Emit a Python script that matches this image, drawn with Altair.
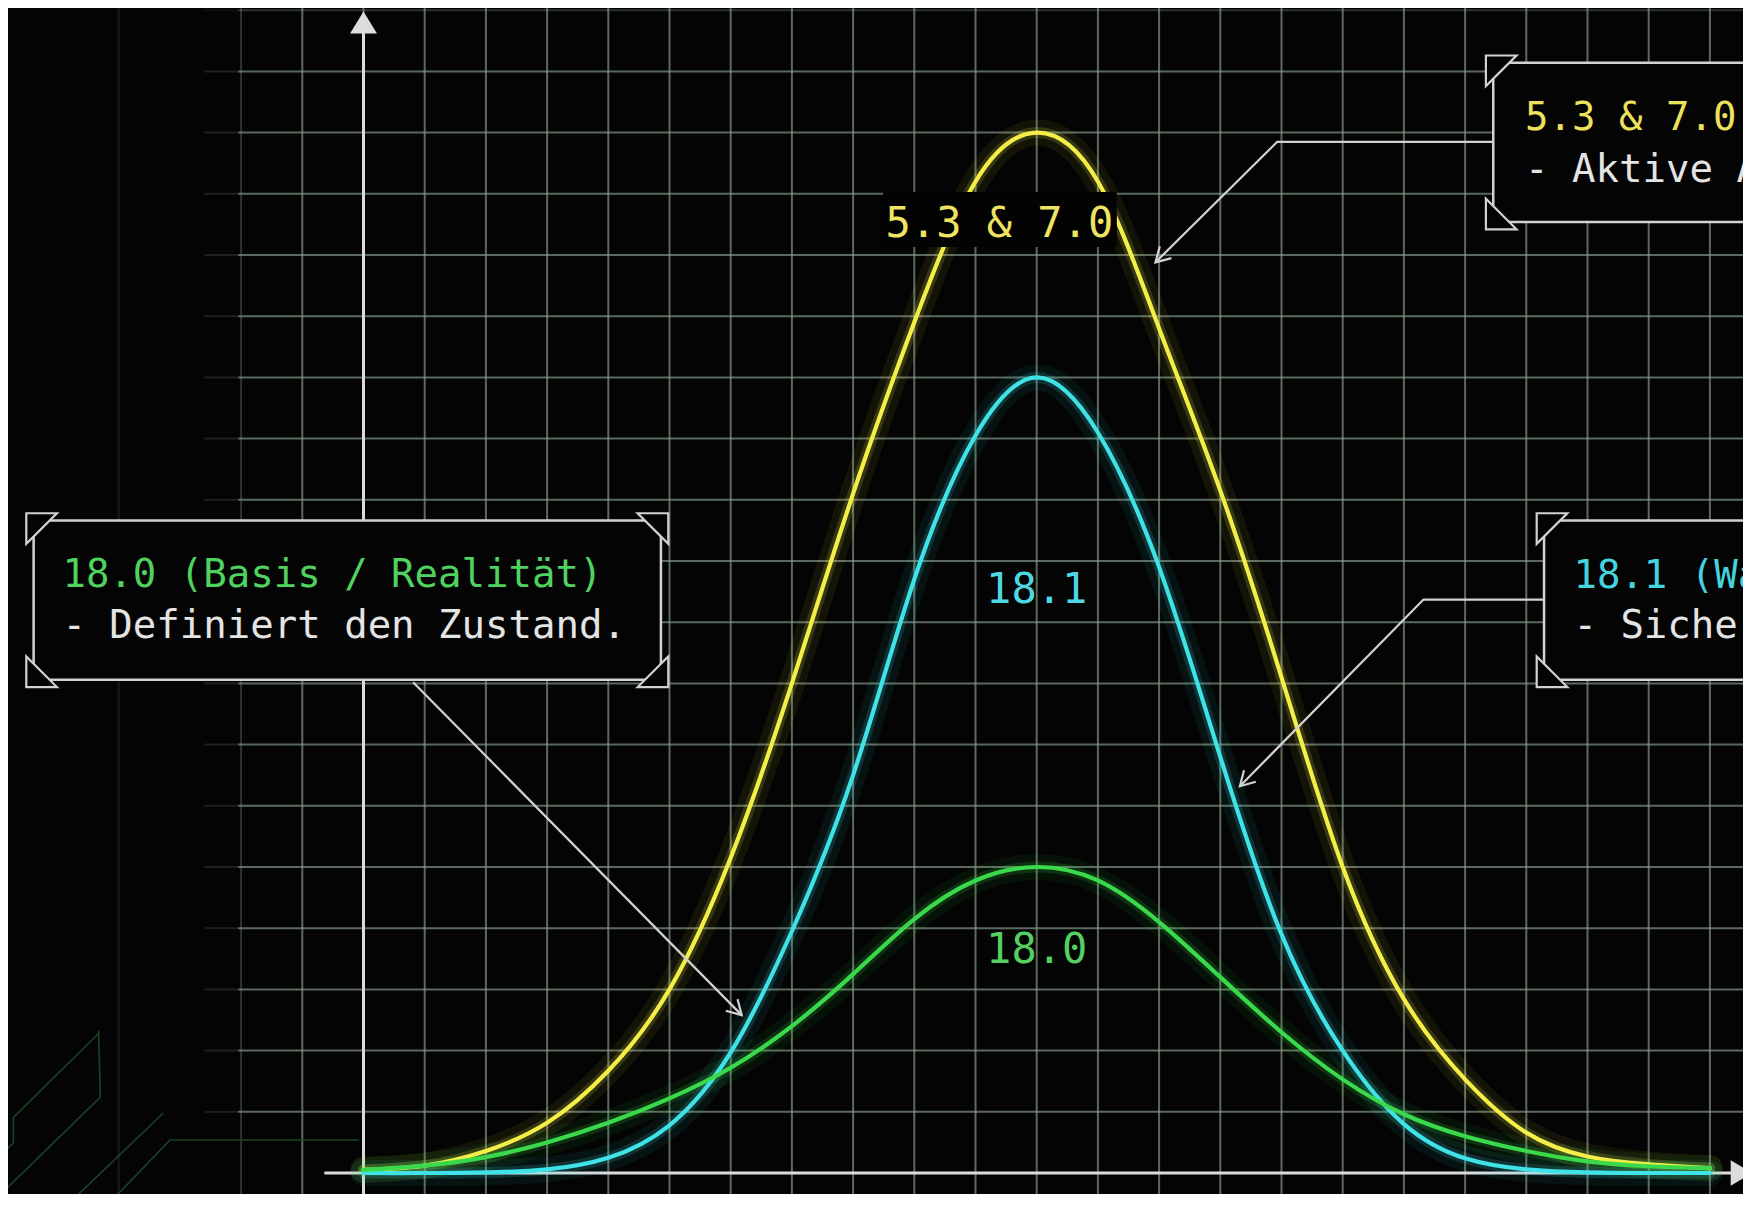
import math
import altair as alt
import pandas as pd

# ------------------------------------------------------------------
# Values (grid units: 1 unit = one grid cell)
# ------------------------------------------------------------------
x_pos = list(range(23))
yellow_vals = [0.05, 0.12, 0.36, 0.82, 1.67, 3.0, 5.15, 8.0, 11.1, 13.9, 16.2, 17.0,
               16.2, 13.8, 11.15, 8.1, 5.0, 2.84, 1.53, 0.66, 0.27, 0.14, 0.08]
cyan_vals = [0.0, 0.0, 0.01, 0.06, 0.25, 0.78, 1.97, 3.95, 6.5, 9.7, 12.05, 13.0,
             12.1, 9.9, 6.8, 3.9, 2.0, 0.8, 0.24, 0.06, 0.01, 0.0, 0.0]
green_vals = [0.05, 0.12, 0.26, 0.5, 0.82, 1.22, 1.72, 2.4, 3.25, 4.15, 4.78, 5.0,
              4.78, 4.1, 3.2, 2.3, 1.53, 0.96, 0.6, 0.36, 0.19, 0.11, 0.08]
series_names = ["5.3 & 7.0", "18.1", "18.0"]
series_colors = ["#f4ee48", "#3fe2e6", "#3ad94c"]

center_labels = ["5.3 & 7.0", "18.1", "18.0"]
center_label_x = [10.39, 11.0, 11.0]
center_label_u = [15.3, 9.31, 3.43]
center_label_colors = ["#efe462", "#4fd8e3", "#56cf62"]

# box texts as far as they are visible in the picture (the right boxes run off the edge)
box_titles = ["18.0 (Basis / Realität)", "18.1 (Wä", "5.3 & 7.0"]
box_notes = ["- Definiert den Zustand.", "- Sicher", "- Aktive A"]
box_title_colors = ["#50d260", "#44d4dd", "#ece25c"]
note_color = "#e4e4e4"

# annotation layout (grid units)
box_x1 = [-5.39, 19.29, 18.46]
box_x2 = [4.86, 24.0, 24.0]
box_u1 = [8.06, 8.06, 15.54]
box_u2 = [10.66, 10.66, 18.14]
box_corners = [["tl", "tr", "bl", "br"], ["tl", "bl"], ["tl", "bl"]]
box_text_x = [-4.92, 19.77, 18.98]
box_title_u = [9.57, 9.56, 17.04]
box_note_u = [8.74, 8.74, 16.2]

connectors = [
    [(18.46, 16.85), (14.93, 16.85), (12.94, 14.88)],
    [(19.29, 9.37), (17.32, 9.37), (14.32, 6.32)],
    [(0.81, 8.02), (6.18, 2.58)],
]

# faint decorative circuit traces, lower left
traces = [
    [(-4.33, 2.33), (-4.30, 1.24), (-5.94, -0.36)],
    [(-4.33, 2.28), (-5.72, 0.91), (-5.72, 0.49), (-5.94, 0.27)],
    [(-3.27, 0.98), (-4.91, -0.59)],
    [(-0.08, 0.54), (-3.16, 0.54), (-4.25, -0.59)],
]

# ------------------------------------------------------------------
W, H = 1735, 1186
UNIT = 61.2
X_LEFT = -(363.5 - 8) / UNIT
X_RIGHT = X_LEFT + W / UNIT
U_TOP = (1173.0 - 8) / UNIT
U_BOTTOM = U_TOP - H / UNIT

xs = alt.Scale(domain=[X_LEFT, X_RIGHT], nice=False, zero=False)
ys = alt.Scale(domain=[U_BOTTOM, U_TOP], nice=False, zero=False)


def X(f):
    return alt.X(f, type="quantitative", scale=xs, axis=None)


def Y(f):
    return alt.Y(f, type="quantitative", scale=ys, axis=None)


FONT = "DejaVu Sans Mono"
GRID = "#8a9e8d"
AXIS = "#dcdcdc"
LINE = "#d2d2d2"

# ---- grid ----
v_rows = [{"X": x, "u1": U_BOTTOM - 1, "u2": U_TOP + 1, "o": 0.66 if x >= -1 else 0.32}
          for x in range(-2, 24)]
v_rows.append({"X": -4, "u1": U_BOTTOM - 1, "u2": U_TOP + 1, "o": 0.16})
vgrid = alt.Chart(pd.DataFrame(v_rows)).mark_rule(color=GRID, strokeWidth=2).encode(
    x=X("X"), y=Y("u1"), y2="u2", opacity=alt.Opacity("o:Q", scale=None))
h_rows = []
for u in range(1, 20):
    op = 0.66 if u < 19 else 0.3
    h_rows.append({"U": u, "x1": -2.05, "x2": X_RIGHT + 1, "o": op})
    h_rows.append({"U": u, "x1": -2.6, "x2": -2.05, "o": op * 0.3})
hgrid = alt.Chart(pd.DataFrame(h_rows)).mark_rule(color=GRID, strokeWidth=2).encode(
    x=X("x1"), x2="x2", y=Y("U"), opacity=alt.Opacity("o:Q", scale=None))

# ---- circuit traces ----
tr_rows = []
for i, path in enumerate(traces):
    for j, (a, b) in enumerate(path):
        tr_rows.append({"id": i, "i": j, "X": a, "U": b})
trace_layer = alt.Chart(pd.DataFrame(tr_rows)).mark_line(
    color="#1f4a2a", strokeWidth=1.6, opacity=0.9).encode(
    x=X("X"), y=Y("U"), detail="id:N", order="i:Q")

# ---- axes ----
yaxis = alt.Chart(pd.DataFrame({"X": [0.0], "u1": [U_BOTTOM - 1], "u2": [18.7]})).mark_rule(
    color=AXIS, strokeWidth=3).encode(x=X("X"), y=Y("u1"), y2="u2")
xaxis = alt.Chart(pd.DataFrame({"U": [0.0], "x1": [-0.64], "x2": [22.45]})).mark_rule(
    color=AXIS, strokeWidth=3).encode(y=Y("U"), x=X("x1"), x2="x2")
yarrow = alt.Chart(pd.DataFrame({"X": [-0.22, 0.0, 0.22], "U": [18.62, 18.98, 18.62],
                                 "U2": [18.62, 18.62, 18.62]})).mark_area(
    color=AXIS, opacity=1).encode(x=X("X"), y=Y("U"), y2="U2")
xarrow = alt.Chart(pd.DataFrame({"U": [-0.21, 0.0, 0.21], "X": [22.34, 22.34, 22.34],
                                 "X2": [22.34, 22.69, 22.34]})).mark_area(
    color=AXIS, opacity=1, orient="horizontal").encode(y=Y("U"), x=X("X"), x2="X2")

# ---- curves ----
c_rows = []
for name, vals in zip(series_names, [yellow_vals, cyan_vals, green_vals]):
    for xv, uv in zip(x_pos, vals):
        c_rows.append({"s": name, "X": xv, "U": uv})
curves = pd.DataFrame(c_rows)
ccol = alt.Color("s:N", scale=alt.Scale(domain=series_names, range=series_colors), legend=None)
INTERP = "natural"
glow1 = alt.Chart(curves).mark_line(interpolate=INTERP, strokeWidth=26, opacity=0.07,
                                    strokeCap="round").encode(x=X("X"), y=Y("U"), color=ccol)
glow2 = alt.Chart(curves).mark_line(interpolate=INTERP, strokeWidth=11, opacity=0.16,
                                    strokeCap="round").encode(x=X("X"), y=Y("U"), color=ccol)
main = alt.Chart(curves).mark_line(interpolate=INTERP, strokeWidth=4.2,
                                   strokeCap="round").encode(x=X("X"), y=Y("U"), color=ccol)

# ---- center labels ----
label_bg = alt.Chart(pd.DataFrame({"x1": [8.49], "x2": [12.31], "u1": [15.13], "u2": [16.03]})).mark_rect(
    color="#030303").encode(x=X("x1"), x2="x2", y=Y("u1"), y2="u2")
cl = pd.DataFrame({"t": center_labels, "X": center_label_x, "U": center_label_u,
                   "c": center_label_colors})
center_text = alt.Chart(cl).mark_text(font=FONT, fontSize=42, align="center",
                                      baseline="alphabetic").encode(
    x=X("X"), y=Y("U"), text="t:N", color=alt.Color("c:N", scale=None))


# ---- connectors + arrowheads ----
def chevron(tip, prev, length=0.27, ang=30):
    dx, dy = prev[0] - tip[0], prev[1] - tip[1]
    n = math.hypot(dx, dy)
    dx, dy = dx / n, dy / n
    arms = []
    for s in (1, -1):
        a = math.radians(ang * s)
        rx = dx * math.cos(a) - dy * math.sin(a)
        ry = dx * math.sin(a) + dy * math.cos(a)
        arms.append((tip[0] + length * rx, tip[1] + length * ry))
    return [arms[0], tip, arms[1]]


k_rows = []
pid = 0
for path in connectors:
    for j, (a, b) in enumerate(path):
        k_rows.append({"id": pid, "i": j, "X": a, "U": b})
    pid += 1
    for j, (a, b) in enumerate(chevron(path[-1], path[-2])):
        k_rows.append({"id": pid, "i": j, "X": a, "U": b})
    pid += 1
conn = alt.Chart(pd.DataFrame(k_rows)).mark_line(color=LINE, strokeWidth=2.2).encode(
    x=X("X"), y=Y("U"), detail="id:N", order="i:Q")

# ---- boxes ----
bx = pd.DataFrame({"x1": box_x1, "x2": box_x2, "u1": box_u1, "u2": box_u2})
boxes = alt.Chart(bx).mark_rect(fill="#040404", stroke=LINE, strokeWidth=2.5).encode(
    x=X("x1"), x2="x2", y=Y("u1"), y2="u2")

OFF, LEG = 0.12, 0.5
t_rows = []
tid = 0
for x1, x2, u1, u2, cs in zip(box_x1, box_x2, box_u1, box_u2, box_corners):
    for c in cs:
        if c == "tl":
            ox, oy = x1 - OFF, u2 + OFF
            pts = [(ox, oy, oy - LEG), (ox + LEG, oy, oy)]
        elif c == "bl":
            ox, oy = x1 - OFF, u1 - OFF
            pts = [(ox, oy, oy + LEG), (ox + LEG, oy, oy)]
        elif c == "tr":
            ox, oy = x2 + OFF, u2 + OFF
            pts = [(ox - LEG, oy, oy), (ox, oy, oy - LEG)]
        else:
            ox, oy = x2 + OFF, u1 - OFF
            pts = [(ox - LEG, oy, oy), (ox, oy, oy + LEG)]
        for a, b, b2 in pts:
            t_rows.append({"id": tid, "X": a, "U": b, "U2": b2})
        tid += 1
tris = alt.Chart(pd.DataFrame(t_rows)).mark_area(
    fill="#040404", stroke=LINE, strokeWidth=2.2, opacity=1).encode(
    x=X("X"), y=Y("U"), y2="U2", detail="id:N")

bt_rows = []
for i in range(3):
    bt_rows.append({"t": box_titles[i], "X": box_text_x[i], "U": box_title_u[i], "c": box_title_colors[i]})
    bt_rows.append({"t": box_notes[i], "X": box_text_x[i], "U": box_note_u[i], "c": note_color})
box_text = alt.Chart(pd.DataFrame(bt_rows)).mark_text(
    font=FONT, fontSize=39, align="left", baseline="alphabetic").encode(
    x=X("X"), y=Y("U"), text="t:N", color=alt.Color("c:N", scale=None))

chart = alt.layer(
    vgrid, hgrid, trace_layer, yaxis, xaxis, yarrow, xarrow,
    glow1, glow2, main, label_bg, center_text, conn, boxes, tris, box_text,
).properties(
    width=W, height=H, padding=0, background="#030403",
    autosize=alt.AutoSizeParams(type="none"),
).configure_view(strokeWidth=0)

chart.save("out.html", embed_options={"renderer": "svg", "actions": False})
